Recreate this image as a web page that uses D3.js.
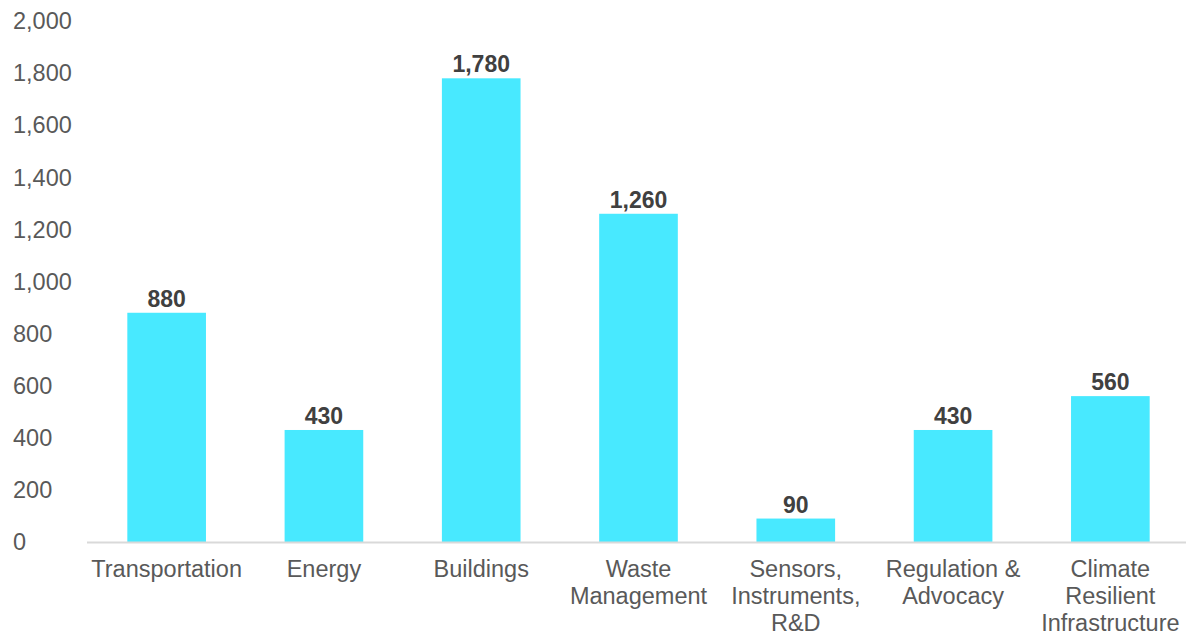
<!DOCTYPE html>
<html>
<head>
<meta charset="utf-8">
<script src="https://cdn.jsdelivr.net/npm/d3@7"></script>
<style>
  html, body { margin: 0; padding: 0; background: #fff; }
  svg { display: block; }
</style>
</head>
<body>
<svg id="chart" width="1186" height="637"></svg>
<script>
// Category labels (line breaks as shown under each bar)
const categories = [
  ["Transportation"],
  ["Energy"],
  ["Buildings"],
  ["Waste", "Management"],
  ["Sensors,", "Instruments,", "R&D"],
  ["Regulation &", "Advocacy"],
  ["Climate", "Resilient", "Infrastructure"]
];
const values = [880, 430, 1780, 1260, 90, 430, 560];
const yTicks = [0, 200, 400, 600, 800, 1000, 1200, 1400, 1600, 1800, 2000];

const svg = d3.select("#chart");
const plot = { left: 88, right: 1189, top: 21, bottom: 542 };
const fontFamily = "'Liberation Sans', Arial, sans-serif";

const keys = categories.map(c => c.join(" "));

const x = d3.scaleBand()
  .domain(keys)
  .range([plot.left, plot.right])
  .paddingInner(0.5)
  .paddingOuter(0.25);

const y = d3.scaleLinear()
  .domain([0, 2000])
  .range([plot.bottom, plot.top]);

// Y tick labels (no axis line)
const fmt = d3.format(",");
svg.append("g")
  .selectAll("text")
  .data(yTicks)
  .join("text")
  .attr("x", 13)
  .attr("y", d => y(d))
  .attr("dy", "0.35em")
  .attr("font-family", fontFamily)
  .attr("font-size", 23.5)
  .attr("fill", "#595959")
  .text(d => fmt(d));

// Bars
svg.append("g")
  .selectAll("rect")
  .data(values)
  .join("rect")
  .attr("x", (d, i) => x(keys[i]))
  .attr("y", d => y(d))
  .attr("width", x.bandwidth())
  .attr("height", d => y(0) - y(d))
  .attr("fill", "#48E9FF");

// Baseline
svg.append("line")
  .attr("x1", 87)
  .attr("x2", 1186)
  .attr("y1", y(0) + 0.5)
  .attr("y2", y(0) + 0.5)
  .attr("stroke", "#d9d9d9")
  .attr("stroke-width", 2);

// Value labels
svg.append("g")
  .selectAll("text")
  .data(values)
  .join("text")
  .attr("x", (d, i) => x(keys[i]) + x.bandwidth() / 2)
  .attr("y", d => y(d) - 6)
  .attr("text-anchor", "middle")
  .attr("font-family", fontFamily)
  .attr("font-size", 23)
  .attr("font-weight", "bold")
  .attr("fill", "#404040")
  .text(d => fmt(d));

// Category labels
const xl = svg.append("g")
  .selectAll("text")
  .data(categories)
  .join("text")
  .attr("x", (d, i) => x(keys[i]) + x.bandwidth() / 2)
  .attr("y", 577)
  .attr("text-anchor", "middle")
  .attr("font-family", fontFamily)
  .attr("font-size", 23.5)
  .attr("fill", "#595959");

xl.selectAll("tspan")
  .data(d => d)
  .join("tspan")
  .attr("x", function () { return d3.select(this.parentNode).attr("x"); })
  .attr("dy", (d, i) => i === 0 ? 0 : 27)
  .text(d => d);
</script>
</body>
</html>
